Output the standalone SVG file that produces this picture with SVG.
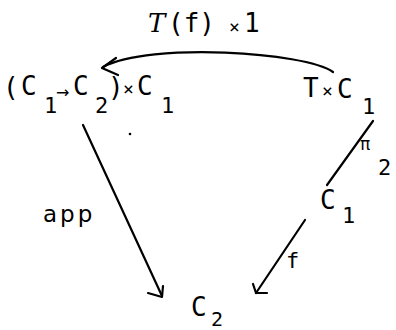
<svg xmlns="http://www.w3.org/2000/svg" width="396" height="330" viewBox="0 0 396 330">
<style>
text{font-family:"DejaVu Sans Mono","Liberation Mono",monospace;font-size:26px;fill:#000}
.s{font-size:22px}
.x{font-size:18px}
.lbl{font-family:"DejaVu Sans","Liberation Sans",sans-serif;font-size:23px;letter-spacing:3px}
.edge{fill:none;stroke:#000;stroke-width:2.2;stroke-linecap:round;stroke-linejoin:round}
</style>
<rect width="396" height="330" fill="#fff"/>
<g id="node-left">
<text x="3" y="96">(</text>
<text x="21" y="95">C</text>
<text class="s" x="44" y="113">1</text>
<text x="56" y="98" style="font-family:'DejaVu Sans','Liberation Sans',sans-serif;font-size:16px">→</text>
<text x="73" y="95">C</text>
<text class="s" x="95" y="113">2</text>
<text x="108" y="96">)</text>
<text class="x" x="123" y="95">×</text>
<text x="137" y="95">C</text>
<text class="s" x="161" y="113">1</text>
</g>
<g id="node-right">
<text x="303" y="97">T</text>
<text class="x" x="322" y="97">×</text>
<text x="337" y="98">C</text>
<text class="s" x="362" y="114">1</text>
</g>
<g id="node-mid">
<text x="320" y="209">C</text>
<text class="s" x="342" y="223">1</text>
</g>
<g id="node-bottom">
<text x="191" y="316">C</text>
<text class="s" x="211" y="326" style="font-size:20px">2</text>
</g>
<g id="connectors">
<path class="edge" d="M333,72 C305,52 150,42 103,67"/>
<path class="edge" d="M116,58 L102,68 L118,75"/>
<text x="148" y="32" style="font-family:'DejaVu Serif','Liberation Serif',serif;font-style:italic">T</text>
<text x="168" y="32">(f)</text>
<text class="x" x="229" y="33">×</text>
<text x="244" y="32">1</text>
<path class="edge" d="M83,125 L162,296"/>
<path class="edge" d="M148,293 L162,297 L163,286"/>
<text class="lbl" x="43" y="222">app</text>
<path class="edge" d="M373,121 L327,185"/>
<text x="360" y="150" style="font-size:17px">π</text>
<text class="s" x="378" y="175">2</text>
<path class="edge" d="M305,220 L256,293"/>
<path class="edge" d="M253,284 L256,293 L267,293"/>
<text class="s" x="286" y="268">f</text>
<circle cx="130" cy="134" r="1.3" fill="#000"/>
</g>
</svg>
